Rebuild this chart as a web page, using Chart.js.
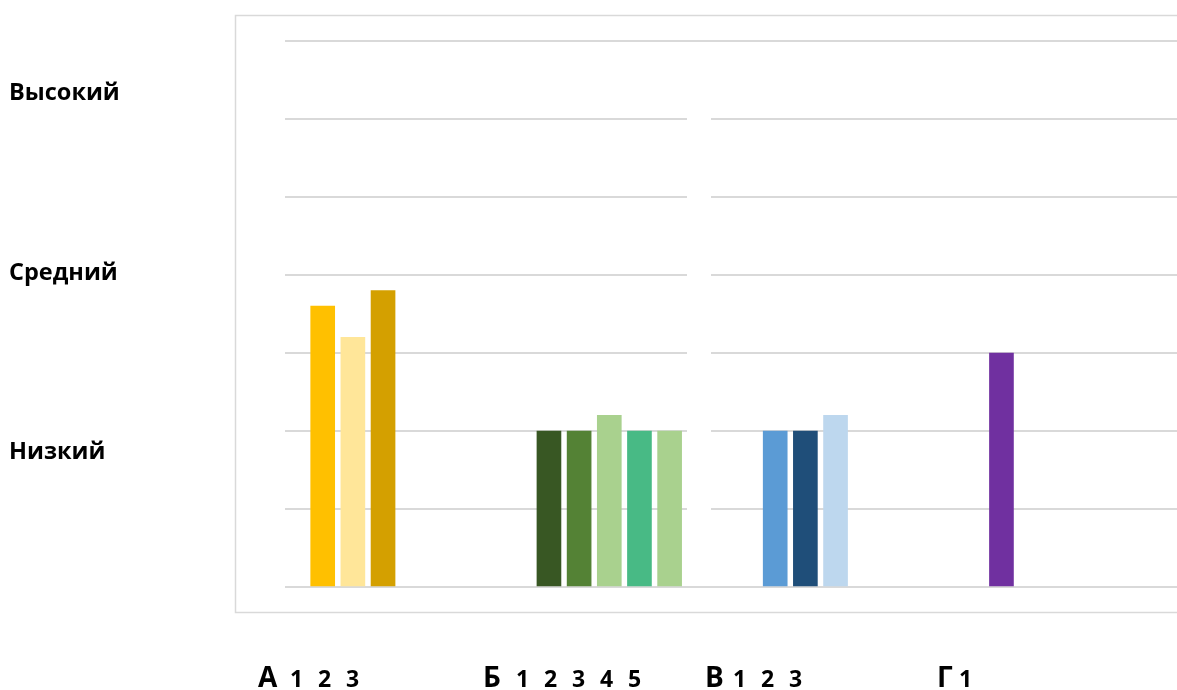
<!DOCTYPE html>
<html>
<head>
  <meta charset="utf-8">
  <title>Уровни по группам</title>
  <script src="https://cdn.jsdelivr.net/npm/chart.js@4/dist/chart.umd.min.js"></script>
  <style>
    html, body {
      margin: 0;
      padding: 0;
      background: #ffffff;
      overflow: hidden;
    }
    #wrap {
      position: relative;
      width: 1240px;
      height: 690px;
    }
  </style>
</head>
<body>
  <div id="wrap"><canvas id="myChart"></canvas></div>
  <script>
    // значения по группам
    var groups = ['А', 'Б', 'В', 'Г'];
    var valuesA = [3.6, 3.2, 3.8];
    var valuesB = [2, 2, 2.2, 2, 2];
    var valuesV = [2, 2, 2.2];
    var valuesG = [3];
    var levels = ['Высокий', 'Средний', 'Низкий'];

    var colorsA = ['#FFC000', '#FFE699', '#D4A000'];
    var colorsB = ['#385723', '#548235', '#A9D18E', '#48BA85', '#A9D18E'];
    var colorsV = ['#5B9BD5', '#1F4E79', '#BDD7EE'];
    var colorsG = ['#7030A0'];

    // раскладка столбиков по слотам категориальной оси
    var slotCount = 60;
    var groupStart = [2, 17, 32, 47];
    var groupValues = [valuesA, valuesB, valuesV, valuesG];
    var groupColors = [colorsA, colorsB, colorsV, colorsG];

    var labels = [];
    var data = [];
    var colors = [];
    for (var i = 0; i < slotCount; i++) {
      labels.push(String(i));
      data.push(null);
      colors.push('#ffffff');
    }
    for (var g = 0; g < groupValues.length; g++) {
      for (var j = 0; j < groupValues[g].length; j++) {
        var slot = groupStart[g] + j * 2;
        data[slot] = groupValues[g][j];
        colors[slot] = groupColors[g][j];
      }
    }

    // подписи: рамка, уровни слева и группы снизу
    var decorPlugin = {
      id: 'decor',
      beforeDraw: function(chart) {
        var ctx = chart.ctx;
        ctx.save();
        ctx.strokeStyle = '#d9d9d9';
        ctx.lineWidth = 1.5;
        ctx.strokeRect(235.5, 15.5, 1000, 597);
        ctx.restore();
      },
      beforeDatasetsDraw: function(chart) {
        var ctx = chart.ctx;
        ctx.save();
        ctx.fillStyle = '#ffffff';
        ctx.fillRect(687, 117, 24, 469);
        ctx.restore();
      },
      afterDraw: function(chart) {
        var ctx = chart.ctx;
        ctx.save();
        ctx.fillStyle = '#000000';
        ctx.textBaseline = 'middle';
        ctx.textAlign = 'left';
        ctx.font = 'bold 23.5px "Open Sans"';
        var levelY = [93, 273, 452];
        for (var k = 0; k < levels.length; k++) {
          ctx.fillText(levels[k], 9, levelY[k]);
        }

        ctx.textBaseline = 'alphabetic';
        var letterX = [258, 483, 705, 937];
        var digitX = [290, 516, 733, 959];
        for (var g = 0; g < groups.length; g++) {
          ctx.font = 'bold 28px "Open Sans"';
          ctx.fillText(groups[g], letterX[g], 687);
          ctx.font = 'bold 23px "Open Sans"';
          for (var n = 0; n < groupValues[g].length; n++) {
            ctx.fillText(String(n + 1), digitX[g] + n * 28, 687);
          }
        }
        ctx.restore();
      }
    };

    var ctx = document.getElementById('myChart').getContext('2d');
    var myChart = new Chart(ctx, {
      type: 'bar',
      data: {
        labels: labels,
        datasets: [{
          data: data,
          backgroundColor: colors,
          barThickness: 24,
          borderWidth: 0
        }]
      },
      options: {
        responsive: true,
        maintainAspectRatio: false,
        animation: false,
        layout: {
          padding: { left: 285, top: 41, right: 50, bottom: 103 }
        },
        plugins: {
          legend: { display: false },
          tooltip: { enabled: false }
        },
        scales: {
          x: {
            display: false,
            offset: true
          },
          y: {
            min: 0,
            max: 7,
            ticks: { display: false, stepSize: 1 },
            border: { display: false },
            grid: { color: '#d9d9d9', lineWidth: 2, drawTicks: false },
            afterFit: function(scale) { scale.width = 0; }
          }
        }
      },
      plugins: [decorPlugin]
    });
  </script>
</body>
</html>
